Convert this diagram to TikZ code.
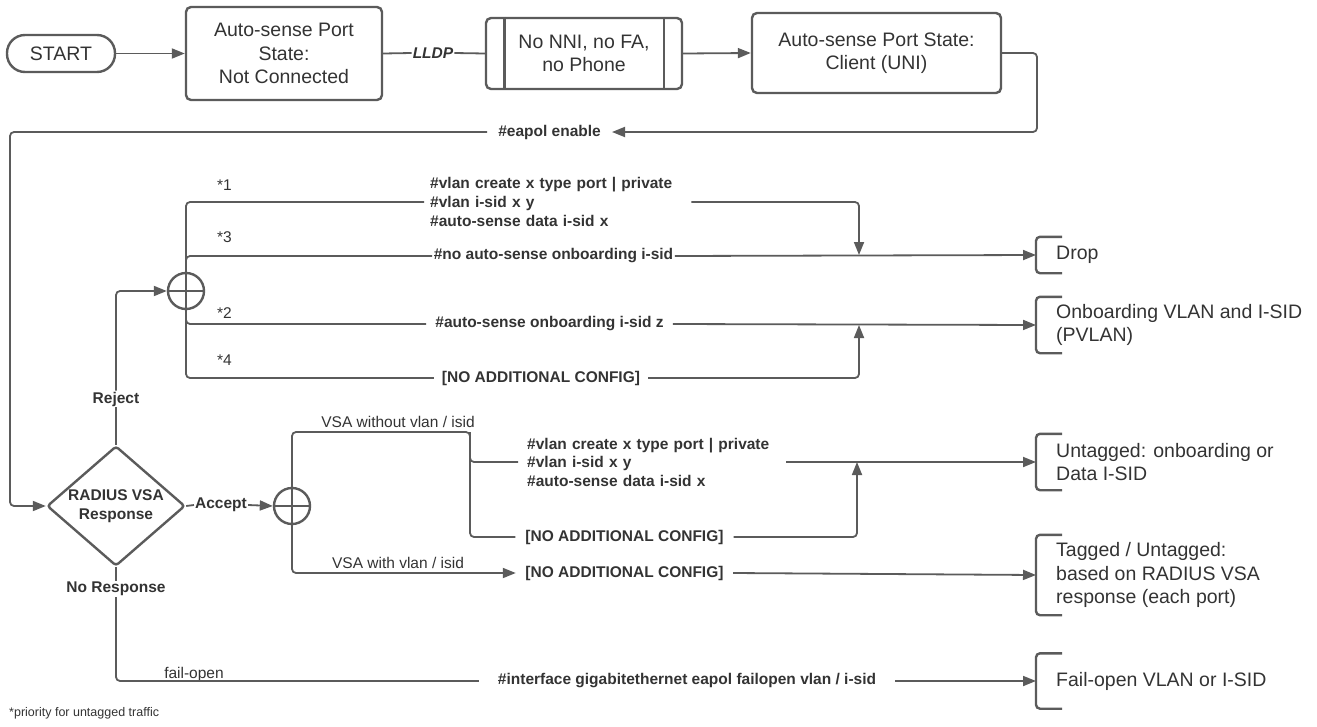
\documentclass[tikz,border=0pt]{standalone}
\usepackage{fontspec}
\setmainfont{Liberation Sans}
\usetikzlibrary{arrows.meta,shapes.geometric}
\definecolor{lc}{HTML}{5B5B5B}
\definecolor{tc}{HTML}{333333}
\newcommand\fbig{\fontsize{19.5}{23.5}\selectfont}
\newcommand\fcmd{\fontsize{15.5}{19}\selectfont\bfseries}
\newcommand\flab{\fontsize{15.5}{19}\selectfont}
\newcommand\fnote{\fontsize{12.5}{15}\selectfont}
\begin{document}
\begin{tikzpicture}[x=1pt,y=-1pt,
  ln/.style={draw=lc, line width=1.8pt},
  arr/.style={-{Triangle[length=13pt,width=10pt]}},
  boxs/.style={draw=lc, line width=2.4pt, rounded corners=5pt, align=center, text=tc, font=\fbig, inner sep=0pt},
  cmd/.style={font=\fcmd, text=tc, inner ysep=2pt},
  lab/.style={font=\flab, text=tc, inner sep=1pt},
  blab/.style={font=\fcmd, text=tc, inner sep=1pt},
  outc/.style={anchor=west, align=left, font=\fbig, text=tc, inner xsep=20pt, inner ysep=0pt},
  brk/.style={draw=lc, line width=2.4pt, rounded corners=4pt},
  orn/.style={circle, draw=lc, line width=2.4pt, minimum size=36pt, inner sep=0pt},
]
\useasboundingbox (0,0) rectangle (1317,726);

% top row
\node[boxs, rounded corners=18pt, minimum width=108pt, minimum height=37pt] (start) at (61,53.5) {START};
\node[boxs, minimum width=196pt, minimum height=93pt] (b1) at (284,53.5) {Auto-sense Port\\State:\\Not Connected};
\node[font=\fontsize{15.5}{19}\selectfont\bfseries\itshape, text=tc, inner sep=1pt] (lldp) at (433,53) {LLDP};
\node[boxs, minimum width=196pt, minimum height=71pt] (b2) at (584,53.5) {No NNI, no FA,\\no Phone};
\draw[draw=lc, line width=2.4pt] ([xshift=19.5pt]b2.north west) -- ([xshift=19.5pt]b2.south west);
\draw[draw=lc, line width=2.4pt] ([xshift=-19.5pt]b2.north east) -- ([xshift=-19.5pt]b2.south east);
\node[boxs, minimum width=249pt, minimum height=80pt] (b3) at (876.5,53) {Auto-sense Port State:\\Client (UNI)};

\draw[ln, arr] (start.east) -- (b1.west);
\draw[ln] (b1.east) -- (lldp.west);
\draw[ln] (lldp.east) -- (b2.west);
\draw[ln, arr] (b2.east) -- (b3.west);

\node[cmd, anchor=east, inner xsep=11pt] (eap) at (612,132) {\#eapol enable};
\coordinate (c1) at (1037,132);
\coordinate (c2) at (10,300);
\draw[ln, arr, rounded corners=4pt] (b3.east) -| (c1) -- (eap.east);

% diamond
\node[diamond, draw=lc, line width=2.4pt, minimum width=138pt, minimum height=120pt, inner sep=0pt, rounded corners=3pt] (dia) at (116,506) {};
\node[font=\fcmd, text=tc, align=center, inner sep=0pt] (diat) at (116,506) {RADIUS VSA\\Response};
\draw[ln, arr, rounded corners=4pt] (eap.west) -| (c2) |- (dia.west);

% reject branch
\node[orn] (or1) at (186,291) {};
\draw[ln] (or1.west) -- (or1.east);
\draw[ln] (or1.north) -- (or1.south);
\node[blab, fill=white] (rej) at (116,399) {Reject};
\draw[ln] (dia.north) -- (rej.south);
\draw[ln, arr, rounded corners=4pt] (rej.north) |- (or1.west);

\node[cmd, anchor=west, align=left, text width=255pt, inner xsep=6pt] (t1) at (424,202) {\#vlan create x type port | private\\\#vlan i-sid x y\\\#auto-sense data i-sid x};
\node[cmd, inner xsep=1.5pt] (t3) at (553.5,256) {\#no auto-sense onboarding i-sid};
\node[cmd, inner xsep=9pt] (t2) at (549.5,324) {\#auto-sense onboarding i-sid z};
\node[cmd, inner xsep=8pt] (t4) at (541,378) {[NO ADDITIONAL CONFIG]};

\node[lab, anchor=west] (s1) at (216,185) {*1};
\node[lab, anchor=west] (s3) at (216,237) {*3};
\node[lab, anchor=west] (s2) at (216,313) {*2};
\node[lab, anchor=west] (s4) at (216,360) {*4};

\draw[ln, rounded corners=4pt] (t1.west) -| (or1.north);
\draw[ln, rounded corners=4pt] (t3.west) -| (or1.north);
\draw[ln, rounded corners=4pt] (t2.west) -| (or1.south);
\draw[ln, rounded corners=4pt] (t4.west) -| (or1.south);

\node[outc, minimum height=36pt] (drop) at (1036,255) {Drop};
\node[outc, minimum height=56pt] (onb) at (1036,325) {Onboarding VLAN and I-SID\\(PVLAN)};
\coordinate (j1) at (859,255);
\coordinate (j2) at (859,325);
\draw[ln, arr, rounded corners=4pt] (t1.east) -| (j1);
\draw[ln, arr] (t3.east) -- (drop.west);
\draw[ln, arr] (t2.east) -- (onb.west);
\draw[ln, arr, rounded corners=4pt] (t4.east) -| (j2);

% accept branch
\node[blab] (acc) at (221,505) {Accept};
\node[orn] (or2) at (292,506) {};
\draw[ln] (or2.west) -- (or2.east);
\draw[ln] (or2.north) -- (or2.south);
\draw[ln] (dia.east) -- (acc.west);
\draw[ln, arr] (acc.east) -- (or2.west);

\coordinate (k1) at (470,432);
\node[lab] (vwo) at (398,422) {VSA without vlan / isid};
\node[lab] (vw) at (398,563) {VSA with vlan / isid};

\node[cmd, anchor=west, align=left, text width=250pt, inner xsep=9pt, inner ysep=0pt, font=\fontsize{15.5}{18.5}\selectfont\bfseries] (t5) at (518,462) {\#vlan create x type port | private\\\#vlan i-sid x y\\\#auto-sense data i-sid x};
\node[cmd, inner xsep=10pt] (t6) at (624.5,537) {[NO ADDITIONAL CONFIG]};
\node[cmd, inner xsep=9.5pt] (t7) at (624.5,573) {[NO ADDITIONAL CONFIG]};

\draw[ln, rounded corners=4pt] (or2.north) |- (k1) |- (t5.west);
\draw[ln, rounded corners=4pt] (k1) |- (t6.west);
\draw[ln, arr, rounded corners=4pt] (or2.south) |- (t7.west);

\node[outc, minimum height=56pt] (unt) at (1036,462) {Untagged: onboarding or\\Data I-SID};
\node[outc, minimum height=80pt] (tag) at (1036,575) {Tagged / Untagged:\\based on RADIUS VSA\\response (each port)};
\coordinate (j3) at (857,462);
\draw[ln, arr] (t5.east) -- (unt.west);
\draw[ln, arr, rounded corners=4pt] (t6.east) -| (j3);
\draw[ln, arr] (t7.east) -- (tag.west);

% no response branch
\node[blab, fill=white] (nr) at (116,589) {No Response};
\node[cmd, inner xsep=19pt] (t8) at (687,681) {\#interface gigabitethernet eapol failopen vlan / i-sid};
\node[lab] (fo) at (194,674) {fail-open};
\node[outc, minimum height=55pt] (fov) at (1036,681) {Fail-open VLAN or I-SID};
\draw[ln] (dia.south) -- (nr.north);
\draw[ln, rounded corners=4pt] (nr.south) |- (t8.west);
\draw[ln, arr] (t8.east) -- (fov.west);

% brackets
\foreach \o in {drop,onb,unt,tag,fov}{
  \draw[brk] ([xshift=26pt]\o.north west) -- (\o.north west) -- (\o.south west) -- ([xshift=26pt]\o.south west);
}

\node[font=\fnote, text=tc, anchor=west, inner sep=0pt] (note) at (9,713) {*priority for untagged traffic};
\end{tikzpicture}
\end{document}
